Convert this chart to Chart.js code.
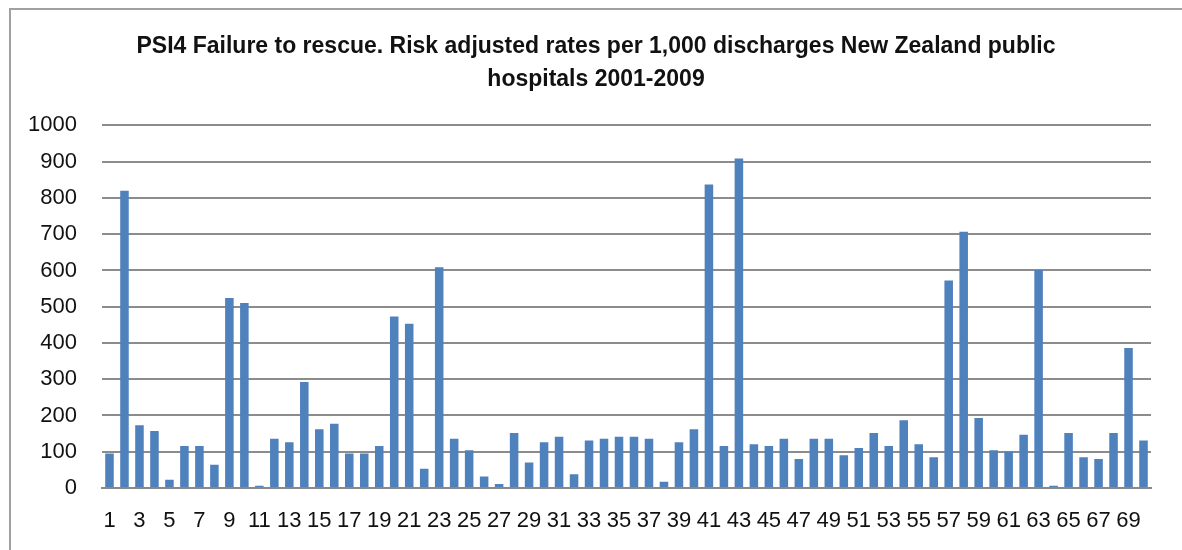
<!DOCTYPE html>
<html>
<head>
<meta charset="utf-8">
<script src="https://cdn.jsdelivr.net/npm/chart.js@4"></script>
<style>
  html, body { margin: 0; padding: 0; background: #fff; }
  #wrap { position: relative; width: 1182px; height: 550px; overflow: hidden; }
  #frame { position: absolute; left: 9px; top: 8px; right: -10px; bottom: -10px;
           border-left: 2px solid #a0a0a0; border-top: 2px solid #a0a0a0; }
  canvas { position: absolute; left: 0; top: 0; }
</style>
</head>
<body>
<div id="wrap">
  <div id="frame"></div>
  <canvas id="psiChart" width="1182" height="550"></canvas>
</div>
<script>
const titleLines = [
  "PSI4 Failure to rescue. Risk adjusted rates per 1,000 discharges New Zealand public",
  "hospitals 2001-2009",
];

// hospital number 1..70
const hospitals = [
  1, 2, 3, 4, 5, 6, 7, 8, 9, 10, 11, 12, 13, 14, 15, 16, 17, 18, 19, 20,
  21, 22, 23, 24, 25, 26, 27, 28, 29, 30, 31, 32, 33, 34, 35, 36, 37, 38, 39, 40,
  41, 42, 43, 44, 45, 46, 47, 48, 49, 50, 51, 52, 53, 54, 55, 56, 57, 58, 59, 60,
  61, 62, 63, 64, 65, 66, 67, 68, 69, 70,
];

// risk adjusted rate per 1,000 discharges
const rates = [
  95, 820, 173, 157, 23, 116, 116, 64, 524, 510,
  6, 136, 126, 292, 162, 177, 95, 95, 116, 473,
  453, 53, 609, 136, 104, 32, 11, 152, 70, 126,
  141, 38, 131, 136, 141, 141, 136, 17, 126, 162,
  837, 116, 909, 121, 116, 136, 80, 136, 136, 90,
  110, 152, 116, 187, 121, 85, 572, 707, 193, 104,
  101, 147, 601, 6, 152, 85, 80, 152, 386, 131,
];

const yTicks = [0, 100, 200, 300, 400, 500, 600, 700, 800, 900, 1000];

const tickFont = { family: "'Liberation Sans', Arial, sans-serif", size: 22 };

function init() {
  new Chart(document.getElementById("psiChart"), {
    type: "bar",
    data: {
      labels: hospitals.map(String),
      datasets: [{
        label: "Rate",
        data: rates,
        backgroundColor: "#4f81bd",
        categoryPercentage: 1,
        barPercentage: 0.57,
      }],
    },
    options: {
      responsive: false,
      animation: false,
      layout: { padding: { top: 31, right: 0, bottom: 0, left: 10 } },
      plugins: {
        legend: { display: false },
        tooltip: { enabled: false },
        title: {
          display: true,
          text: titleLines,
          color: "#111",
          font: { family: "'Liberation Sans', Arial, sans-serif", size: 23, weight: "bold", lineHeight: 1.4 },
          padding: { top: 0, bottom: 30 },
        },
      },
      scales: {
        x: {
          afterFit: (s) => { s.height = 62; },
          grid: { display: false, drawTicks: false },
          border: { display: true, color: "#888", width: 2 },
          ticks: {
            color: "#111",
            font: tickFont,
            padding: 20,
            autoSkip: false,
            maxRotation: 0,
            callback: (v, i) => (i % 2 === 0 ? hospitals[i] : ""),
          },
        },
        y: {
          min: 0,
          max: 1000,
          afterBuildTicks: (s) => { s.ticks = yTicks.map((v) => ({ value: v })); },
          afterFit: (s) => { s.width = 92; },
          grid: { color: "#8c8c8c", lineWidth: 2, drawTicks: false },
          border: { display: false },
          ticks: { color: "#111", font: tickFont, padding: 25, callback: (v) => String(v) },
        },
        // empty right-hand margin so the plot ends where the reference does
        yRight: {
          position: "right",
          afterFit: (s) => { s.width = 31; },
          grid: { display: false, drawTicks: false },
          border: { display: false },
          ticks: { display: false },
        },
      },
    },
  });
}

window.addEventListener("load", init);
</script>
</body>
</html>
